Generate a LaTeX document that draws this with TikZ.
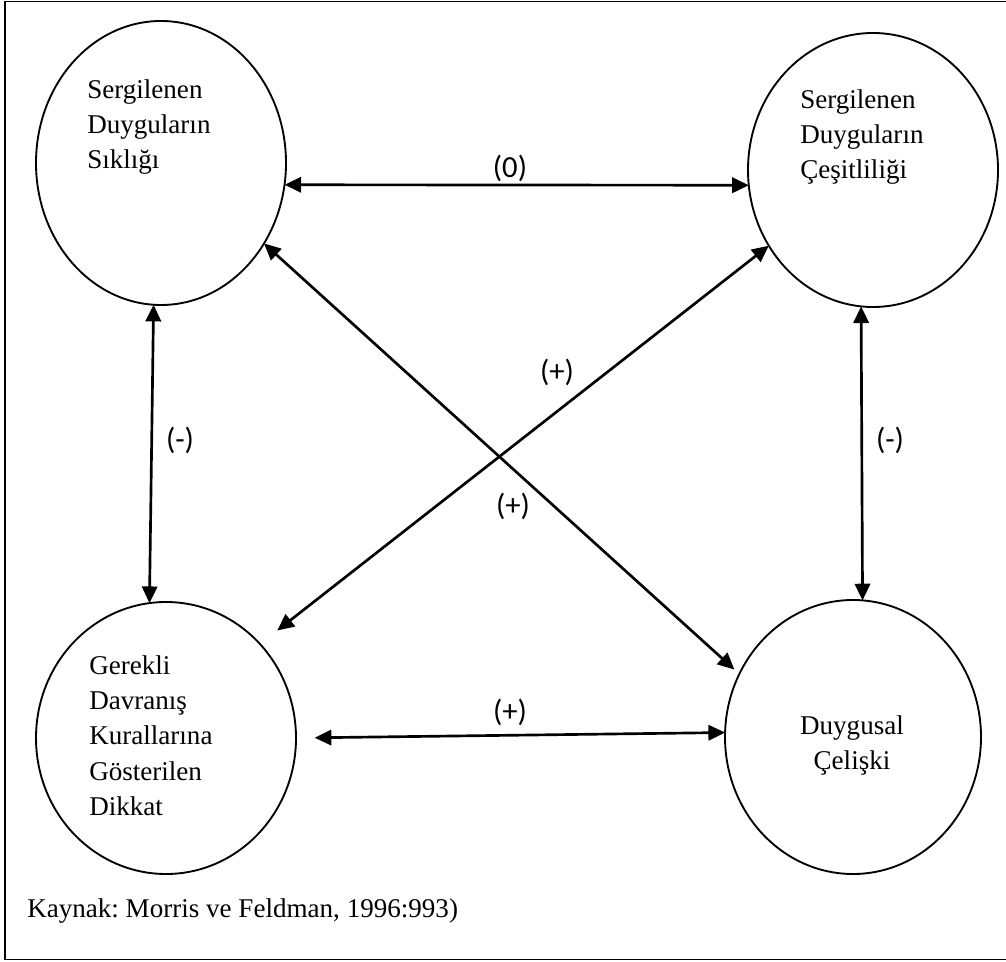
\documentclass[tikz,border=0pt]{standalone}
\usepackage{fontspec}
\setmainfont{Liberation Serif}
\newfontfamily\labfont{Carlito}
\usetikzlibrary{shapes.geometric,arrows.meta}
\frenchspacing
\tikzset{
  oval/.style={ellipse, draw, line width=1.4pt, inner sep=0pt, outer sep=0pt},
  conn/.style={line width=2pt, {Triangle[length=12.5pt,width=11.5pt]}-{Triangle[length=12.5pt,width=11.5pt]}},
  ovaltext/.style={inner sep=0pt, font=\fontsize{20.3}{26.4}\selectfont},
  lab/.style={inner sep=0pt, font=\labfont\fontsize{23}{26}\selectfont},
}
\begin{document}
\begin{tikzpicture}[x=0.75pt,y=-0.75pt]
\useasboundingbox (0,0) rectangle (1006,962);
% frame (right side is cut off in the reference)
\draw[line width=1.3pt] (1008,1.5) -- (5,1.5) -- (5,959.5) -- (1008,959.5);

% ellipses
\node[oval, minimum width=187.5pt, minimum height=213pt] (e1) at (161,163) {};
\node[oval, minimum width=187.5pt, minimum height=205.5pt] (e2) at (873,170) {};
\node[oval, minimum width=195pt, minimum height=204pt] (e3) at (166,738) {};
\node[oval, minimum width=192pt, minimum height=205.5pt] (e4) at (853,737) {};

% texts
\node[ovaltext, align=left, anchor=north west] (t1) at (87,79) {Sergilenen\\Duyguların\\Sıklığı};
\node[ovaltext, align=left, anchor=north west] (t2) at (800,89) {Sergilenen\\Duyguların\\Çeşitliliği};
\node[ovaltext, align=left, anchor=north west, font=\fontsize{20.3}{26.6}\selectfont] (t3) at (89,655) {Gerekli\\Davranış\\Kurallarına\\Gösterilen\\Dikkat};
\node[ovaltext, align=center, anchor=north] (t4) at (852,715) {Duygusal\\Çelişki};
\node[ovaltext, anchor=base west] (src) at (27,917) {Kaynak: Morris ve Feldman, 1996:993)};

% connectors
\draw[conn] (e1.-10.5) -- (e2.187.3);
\draw[conn] (e1.-93.2) -- (e3.97.8);
\draw[conn] (e2.-95) -- (e4.86.7);
\draw[conn, shorten >=5pt] (e1.-38.1) -- (e4.151.8);
\draw[conn, shorten >=16.5pt] (e2.216.3) -- (e3.45);
\draw[conn, shorten <=14pt] (e3.-0.8) -- (e4.178.2);

% labels
\node[lab] (l0) at (510,168) {(0)};
\node[lab] (lm1) at (180,440) {(-)};
\node[lab] (lm2) at (890,440) {(-)};
\node[lab] (lp1) at (557,372) {(+)};
\node[lab] (lp2) at (513,506) {(+)};
\node[lab] (lp3) at (510,712) {(+)};
\end{tikzpicture}
\end{document}
